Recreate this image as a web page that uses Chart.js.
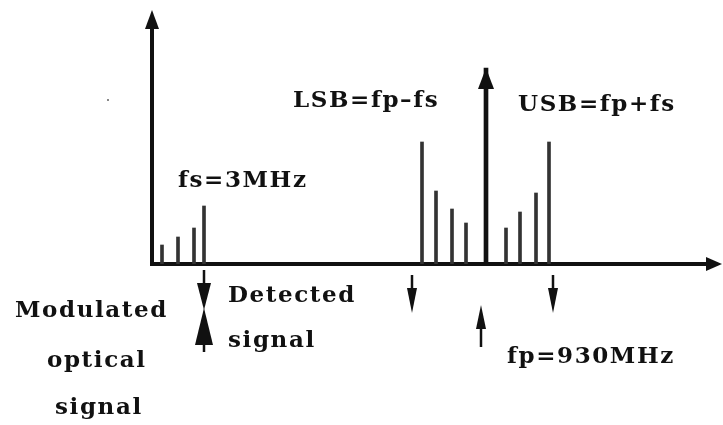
<!DOCTYPE html>
<html lang="en">
<head>
    <meta charset="UTF-8">
    <title>Spectrum: fs, fp, LSB, USB</title>
    <script src="https://cdn.jsdelivr.net/npm/chart.js"></script>
    <style>
        * { margin: 0; padding: 0; box-sizing: border-box; }
        body { background: #fff; }
        .chart-box { width: 723px; height: 425px; position: relative; }
    </style>
</head>
<body>
    <div class="chart-box">
        <canvas id="spectrum" width="723" height="425"></canvas>
    </div>

    <script>
        // spectral lines (x = position along the frequency axis, y = amplitude)
        const detectedX = [10, 26, 42, 52];
        const detectedY = [19, 27, 36, 58];
        const lsbX = [270, 284, 300, 314];
        const lsbY = [122, 73, 55, 41];
        const usbX = [354, 368, 384, 397];
        const usbY = [36, 52, 71, 122];
        const carrierX = [334];
        const carrierY = [196];

        // markers under the frequency axis
        const markerX = [52, 260, 329, 401];
        const markerDir = ['both', 'down', 'up', 'down'];

        const labels = [
            ['fs=3MHz', 178, 187],
            ['LSB=fp\u2013fs', 293, 107],
            ['USB=fp+fs', 518, 111],
            ['fp=930MHz', 507, 363],
            ['Modulated', 15, 317],
            ['optical', 47, 367],
            ['signal', 55, 414],
            ['Detected', 228, 302],
            ['signal', 228, 347]
        ];

        const toPoints = (xs, ys) => xs.map((x, i) => ({ x: x, y: ys[i] }));

        function tri(ctx, x1, y1, x2, y2, x3, y3) {
            ctx.beginPath();
            ctx.moveTo(x1, y1);
            ctx.lineTo(x2, y2);
            ctx.lineTo(x3, y3);
            ctx.closePath();
            ctx.fill();
        }

        // axes with arrow heads, carrier arrow head, markers, text
        const sketch = {
            id: 'sketch',
            beforeDatasetsDraw(chart) {
                const ctx = chart.ctx;
                const a = chart.chartArea;
                ctx.save();
                ctx.fillStyle = '#111';
                ctx.strokeStyle = '#111';
                ctx.lineWidth = 4;
                // y axis
                ctx.beginPath();
                ctx.moveTo(a.left, a.bottom + 2);
                ctx.lineTo(a.left, a.top + 14);
                ctx.stroke();
                tri(ctx, a.left, a.top, a.left - 7, a.top + 19, a.left + 7, a.top + 19);
                // x axis
                ctx.beginPath();
                ctx.moveTo(a.left - 2, a.bottom);
                ctx.lineTo(a.right - 12, a.bottom);
                ctx.stroke();
                tri(ctx, a.right, a.bottom, a.right - 16, a.bottom - 7, a.right - 16, a.bottom + 7);
                ctx.restore();
            },
            afterDatasetsDraw(chart) {
                const ctx = chart.ctx;
                const a = chart.chartArea;
                const xs = chart.scales.x;
                ctx.save();
                ctx.fillStyle = '#111';
                ctx.strokeStyle = '#111';

                // carrier arrow head
                chart.getDatasetMeta(3).data.forEach(bar => {
                    tri(ctx, bar.x, bar.y, bar.x - 8, bar.y + 21, bar.x + 8, bar.y + 21);
                });

                // markers
                markerX.forEach((v, i) => {
                    const x = xs.getPixelForValue(v);
                    const d = markerDir[i];
                    ctx.lineWidth = 2.5;
                    if (d === 'down') {
                        ctx.beginPath();
                        ctx.moveTo(x, a.bottom + 11);
                        ctx.lineTo(x, a.bottom + 30);
                        ctx.stroke();
                        tri(ctx, x, a.bottom + 49, x - 5, a.bottom + 24, x + 5, a.bottom + 24);
                    } else if (d === 'up') {
                        ctx.beginPath();
                        ctx.moveTo(x, a.bottom + 83);
                        ctx.lineTo(x, a.bottom + 60);
                        ctx.stroke();
                        tri(ctx, x, a.bottom + 41, x - 5, a.bottom + 65, x + 5, a.bottom + 65);
                    } else {
                        ctx.beginPath();
                        ctx.moveTo(x, a.bottom + 6);
                        ctx.lineTo(x, a.bottom + 22);
                        ctx.moveTo(x, a.bottom + 78);
                        ctx.lineTo(x, a.bottom + 88);
                        ctx.stroke();
                        tri(ctx, x, a.bottom + 46, x - 7, a.bottom + 19, x + 7, a.bottom + 19);
                        tri(ctx, x, a.bottom + 44, x - 9, a.bottom + 81, x + 9, a.bottom + 81);
                    }
                });

                // stray dot from the scan
                ctx.fillStyle = '#888';
                ctx.fillRect(107, 99, 2, 2);

                // labels
                ctx.fillStyle = '#111';
                ctx.font = 'bold 23px "DejaVu Serif", serif';
                ctx.letterSpacing = '1.6px';
                ctx.textBaseline = 'alphabetic';
                ctx.textAlign = 'left';
                labels.forEach(l => ctx.fillText(l[0], l[1], l[2]));
                ctx.restore();
            }
        };

        new Chart(document.getElementById('spectrum').getContext('2d'), {
            type: 'bar',
            data: {
                datasets: [
                    { data: toPoints(detectedX, detectedY), backgroundColor: '#333', barThickness: 3 },
                    { data: toPoints(lsbX, lsbY), backgroundColor: '#333', barThickness: 3 },
                    { data: toPoints(usbX, usbY), backgroundColor: '#333', barThickness: 3 },
                    { data: toPoints(carrierX, carrierY), backgroundColor: '#111', barThickness: 4 }
                ]
            },
            options: {
                responsive: false,
                animation: false,
                layout: { padding: { left: 152, right: 1, top: 10, bottom: 161 } },
                scales: {
                    x: { type: 'linear', min: 0, max: 570, offset: false, display: false, stacked: false },
                    y: { min: 0, max: 254, display: false }
                },
                datasets: { bar: { grouped: false } },
                plugins: { legend: { display: false }, tooltip: { enabled: false } }
            },
            plugins: [sketch]
        });
    </script>
</body>
</html>
